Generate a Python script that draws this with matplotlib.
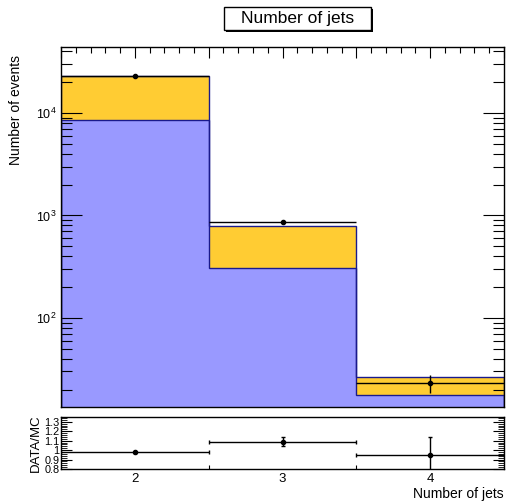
import matplotlib
matplotlib.use("Agg")
import matplotlib.pyplot as plt
import numpy as np
from matplotlib.ticker import LogLocator, MultipleLocator, FixedLocator, NullFormatter, FixedFormatter
from matplotlib.patches import Rectangle

plt.rcParams['font.family'] = ['Liberation Sans', 'DejaVu Sans']
plt.rcParams['mathtext.default'] = 'regular'

# ---- data ----
njets = [2, 3, 4]
bin_edges = [1.5, 2.5, 3.5, 4.5]
mc_blue = [8550, 304, 17.7]
mc_yellow = [14400, 477, 8.9]
data = [22800, 857, 23.2]
ratio = [0.978, 1.09, 0.949]
ratio_err = [0.005, 0.045, 0.19]
tick_labels = ['2', '3', '4']

blue_col = '#9999ff'
yel_col = '#ffcc33'
edge_col = '#1a1a8c'

fig = plt.figure(figsize=(5.08, 5.01), dpi=100)
W, H = 508, 501
def ax_rect(x0, y0, x1, y1):
    return [x0 / W, (H - y1) / H, (x1 - x0) / W, (y1 - y0) / H]

ax = fig.add_axes(ax_rect(61, 47, 504, 407))
rx = fig.add_axes(ax_rect(61, 417, 504, 469))

edges = np.array(bin_edges)
blue = np.array(mc_blue)
tot = blue + np.array(mc_yellow)
ymin, ymax = 13.5, 44000

for i in range(len(njets)):
    x0, x1 = edges[i], edges[i + 1]
    ax.fill_between([x0, x1], ymin, blue[i], color=blue_col, lw=0, zorder=1)
    ax.fill_between([x0, x1], blue[i], tot[i], color=yel_col, lw=0, zorder=1)
ax.stairs(blue, edges, baseline=ymin, color=edge_col, lw=1.0, zorder=2)
ax.stairs(tot, edges, baseline=ymin, color=edge_col, lw=1.0, zorder=2)

d = np.array(data)
ctr = np.array(njets, dtype=float)
ax.errorbar(ctr, d, xerr=0.5, yerr=np.sqrt(d), fmt='o', color='black', ms=3,
            lw=1.0, capsize=0, zorder=5)

ax.set_yscale('log')
ax.set_ylim(ymin, ymax)
ax.set_xlim(edges[0], edges[-1])
ax.yaxis.set_major_locator(LogLocator(base=10, numticks=10))
ax.yaxis.set_minor_locator(LogLocator(base=10, subs=np.arange(2, 10), numticks=20))
ax.yaxis.set_minor_formatter(NullFormatter())
ax.xaxis.set_major_locator(MultipleLocator(0.5))
ax.xaxis.set_minor_locator(MultipleLocator(0.1))
ax.tick_params(axis='x', which='both', direction='in', top=True, bottom=False,
               labelbottom=False)
ax.tick_params(axis='x', which='major', length=8, width=0.8)
ax.tick_params(axis='x', which='minor', length=4, width=0.8)
ax.tick_params(axis='y', which='both', direction='in', left=True, right=True)
ax.tick_params(axis='y', which='major', length=15, width=0.8, labelsize=9)
ax.tick_params(axis='y', which='minor', length=8, width=0.8)
ax.set_ylabel('Number of events', fontsize=10, ha='right')
ax.yaxis.set_label_coords(-38 / 443, (407 - 55) / 360)
for s in ax.spines.values():
    s.set_linewidth(1.0)

# title box with ROOT-like shadow
bx0, by0, bx1, by1 = 224, 7, 371, 30
fig.patches.append(Rectangle((bx0 / W + 2 / W, 1 - (by1 + 2) / H), (bx1 - bx0) / W, (by1 - by0) / H,
                             transform=fig.transFigure, fc='black', ec='none', zorder=1))
fig.patches.append(Rectangle((bx0 / W, 1 - by1 / H), (bx1 - bx0) / W, (by1 - by0) / H,
                             transform=fig.transFigure, fc='white', ec='black', lw=1.0, zorder=2))
fig.text((bx0 + bx1) / 2 / W, 1 - 18.5 / H, 'Number of jets', ha='center', va='center',
         fontsize=12.5, zorder=3)

# ratio pad
rx.errorbar(ctr, ratio, xerr=0.5, yerr=ratio_err, fmt='o', color='black', ms=3,
            lw=1.0, capsize=1.5, zorder=5)
rx.set_xlim(edges[0], edges[-1])
rx.set_ylim(0.8, 1.35)
rx.yaxis.set_major_locator(FixedLocator([0.8, 0.9, 1.0, 1.1, 1.2, 1.3]))
rx.yaxis.set_minor_locator(MultipleLocator(0.02))
rx.set_yticklabels(['0.8', '0.9', '1', '1.1', '1.2', '1.3'])
rx.tick_params(axis='y', which='both', direction='in', left=True, right=True, labelsize=7.8, pad=1)
rx.tick_params(axis='y', which='major', length=8, width=0.8)
rx.tick_params(axis='y', which='minor', length=4, width=0.6)
rx.xaxis.set_major_locator(FixedLocator(list(edges[1:-1])))
rx.xaxis.set_major_formatter(NullFormatter())
rx.xaxis.set_minor_locator(FixedLocator(njets))
rx.xaxis.set_minor_formatter(FixedFormatter(tick_labels))
rx.tick_params(axis='x', which='major', direction='in', length=3, width=0.8)
rx.tick_params(axis='x', which='minor', length=0, labelsize=9.5, pad=3)
rx.set_ylabel('DATA/MC', fontsize=9.5, labelpad=2)
rx.set_xlabel('Number of jets', fontsize=10, loc='right', labelpad=1)
for s in rx.spines.values():
    s.set_linewidth(1.0)

fig.savefig('out.png', dpi=100)
